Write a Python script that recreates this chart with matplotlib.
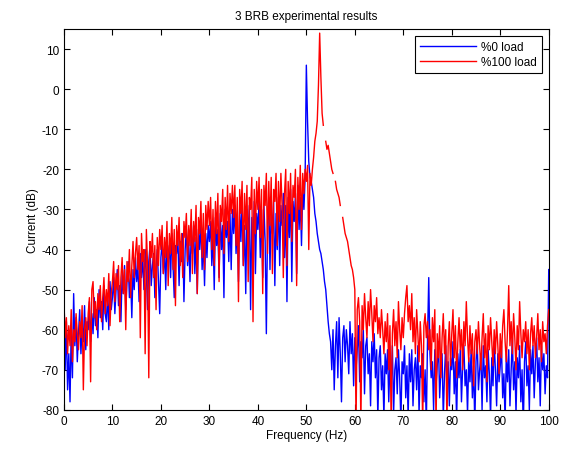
import numpy as np
import matplotlib
matplotlib.use("Agg")
import matplotlib.pyplot as plt

plt.rcParams['font.family'] = ['Liberation Sans', 'DejaVu Sans']
plt.rcParams['axes.unicode_minus'] = False

TITLE = "3 BRB experimental results"
X_LABEL = "Frequency (Hz)"
Y_LABEL = "Current (dB)"
LABELS = ["%0 load", "%100 load"]

# frequency axis, 0.25 Hz bins
freq = np.linspace(0, 100, 401)

# spectrum at no load (dB) in 5 Hz chunks
load0_db = [
    -50, -70, -58, -75, -66, -78, -60, -72, -51, -64, -57, -68, -61, -55, -66, -59, -63, -54, -65, -58,
    -60, -53, -63, -56, -61, -52, -59, -55, -62, -50, -57, -53, -60, -49, -56, -58, -51, -60, -48, -55,
    -52, -47, -56, -50, -45, -54, -49, -58, -46, -51, -44, -55, -48, -43, -52, -47, -57, -45, -50, -42,
    -48, -44, -53, -41, -47, -42, -50, -40, -46, -55, -43, -39, -49, -44, -41, -52, -45, -40, -48, -56,
    -42, -38, -46, -40, -50, -37, -43, -39, -47, -36, -44, -52, -39, -41, -37, -49, -38, -43, -36, -53,
    -40, -35, -44, -38, -48, -36, -41, -34, -46, -37, -51, -35, -40, -33, -45, -38, -49, -36, -42, -34,
    -38, -33, -44, -36, -50, -32, -39, -35, -47, -31, -40, -34, -52, -30, -37, -33, -43, -31, -45, -30,
    -36, -29, -41, -33, -48, -30, -38, -28, -44, -34, -51, -30, -36, -29, -55, -32, -40, -28, -46, -31,
    -35, -28, -42, -30, -47, -29, -38, -61, -33, -27, -45, -30, -36, -28, -49, -31, -40, -27, -44, -29,
    -34, -26, -42, -29, -53, -27, -37, -25, -48, -28, -33, -26, -46, -24, -35, -27, -39, -25, -30, -22,
    6, -8, -18, -22, -23, -25, -27, -31, -33, -36, -38, -40, -41, -43, -45, -48, -50, -54, -58, -61,
    -63, -70, -60, -75, -64, -58, -72, -57, -66, -78, -62, -59, -68, -60, -64, -71, -58, -66, -61, -74,
    -62, -70, -65, -59, -73, -63, -67, -60, -76, -64, -62, -71, -66, -79, -63, -68, -61, -72, -65, -82,
    -67, -64, -75, -69, -82, -66, -71, -65, -78, -68, -73, -64, -81, -70, -67, -76, -65, -72, -83, -68,
    -71, -64, -77, -69, -82, -66, -73, -65, -79, -70, -67, -75, -64, -81, -69, -72, -66, -78, -70, -84,
    -62, -47, -66, -72, -68, -80, -65, -74, -69, -63, -77, -70, -66, -82, -71, -64, -75, -68, -79, -67,
    -70, -63, -76, -68, -83, -66, -72, -65, -78, -69, -64, -74, -70, -81, -67, -73, -65, -77, -69, -84,
    -68, -63, -75, -70, -66, -80, -64, -72, -69, -78, -65, -71, -82, -67, -74, -63, -70, -79, -66, -73,
    -69, -64, -77, -71, -83, -66, -73, -65, -79, -70, -62, -75, -68, -81, -67, -72, -64, -78, -70, -85,
    -68, -63, -74, -69, -80, -65, -71, -64, -77, -68, -62, -73, -67, -79, -64, -70, -66, -76, -69, -72,
    -45,
]

# spectrum at full load (dB); nan = dropped samples seen as gaps
load100_db = [
    -53, -62, -57, -66, -59, -64, -55, -68, -60, -63, -56, -61, -65, -58, -62, -54, -75, -60, -57, -64,
    -56, -52, -73, -50, -48, -57, -53, -60, -51, -55, -49, -58, -52, -47, -56, -50, -54, -46, -59, -51,
    -48, -43, -53, -46, -50, -44, -58, -47, -42, -51, -45, -60, -43, -48, -40, -52, -44, -38, -47, -41,
    -37, -45, -39, -62, -36, -43, -40, -66, -35, -44, -72, -38, -42, -36, -47, -39, -55, -37, -44, -35,
    -40, -34, -46, -37, -42, -33, -49, -36, -41, -32, -45, -35, -54, -34, -39, -32, -44, -36, -47, -33,
    -37, -31, -43, -34, -39, -30, -46, -33, -38, -29, -51, -32, -36, -28, -42, -31, -45, -29, -35, -28,
    -34, -27, -40, -30, -44, -28, -36, -26, -48, -29, -33, -25, -41, -27, -35, -24, -38, -26, -31, -24,
    -32, -24, -39, -27, -53, -25, -31, -23, -44, -26, -35, -24, -48, -27, -30, -22, -58, -25, -36, -23,
    -30, -22, -37, -25, -51, -24, -29, -21, -41, -23, -34, -22, -46, -25, -28, -21, -39, -23, -33, -21,
    -29, -47, -26, -20, -44, -23, -31, -21, -38, -24, -27, -20, -49, -22, -30, -19, -35, -21, -26, -20,
    -23, -19, -40, -21, -24, -20, -17, -13, -11, -8, 1, 14, 3, -6, -9, np.nan, -13, -15, -14, -16,
    -18, -20, -21, np.nan, -23, -25, -26, -27, -29, np.nan, -32, -34, -36, -37, -38, -40, -42, -44, -45, -47,
    -50, -84, -55, -52, -58, -84, -54, -60, -51, -57, -62, -53, -59, -50, -56, -63, -54, -58, -52, -61,
    -57, -62, -55, -60, -66, -58, -63, -56, -70, -59, -84, -61, -55, -64, -58, -67, -53, -60, -65, -57,
    -62, -56, -52, -49, -58, -54, -60, -51, -63, -57, -66, -55, -61, -68, -58, -64, -84, -59, -56, -62,
    -58, -65, -60, -70, -57, -63, -55, -84, -61, -67, -59, -72, -62, -56, -66, -60, -84, -64, -58, -69,
    -61, -55, -67, -59, -72, -63, -57, -65, -60, -70, -58, -64, -53, -62, -68, -59, -66, -61, -74, -63,
    -60, -66, -58, -64, -70, -62, -56, -67, -61, -73, -59, -65, -57, -63, -69, -60, -66, -58, -64, -71,
    -61, -67, -59, -55, -63, -68, -60, -49, -64, -58, -66, -56, -62, -70, -59, -65, -53, -61, -67, -60,
    -63, -58, -66, -60, -70, -61, -57, -64, -59, -67, -62, -56, -65, -60, -68, -58, -63, -61, -66, -59,
    -55,
]

fig = plt.figure(figsize=(5.71, 4.56), dpi=100)
ax = fig.add_axes([0.112, 0.099, 0.849, 0.835])

ax.plot(freq, load0_db, color='blue', lw=1.0, label=LABELS[0])
ax.plot(freq, load100_db, color='red', lw=1.0, label=LABELS[1])

ax.set_xlim(0, 100)
ax.set_ylim(-80, 15)
ax.set_xticks(np.arange(0, 101, 10))
ax.set_yticks(np.arange(-80, 11, 10))
ax.tick_params(direction='in', top=True, right=True, labelsize=8.5, length=4, width=0.8)
for s in ax.spines.values():
    s.set_linewidth(0.8)

ax.set_title(TITLE, fontsize=8.5, pad=7)
ax.set_xlabel(X_LABEL, fontsize=8.5, labelpad=2)
ax.set_ylabel(Y_LABEL, fontsize=8.5, labelpad=2)

leg = ax.legend(loc='upper right', fontsize=8.5, handlelength=4.8, fancybox=False,
                edgecolor='black', framealpha=1, borderaxespad=0.6, handletextpad=0.4,
                labelspacing=0.3)
leg.get_frame().set_linewidth(0.8)

fig.savefig("out.png", dpi=100)
